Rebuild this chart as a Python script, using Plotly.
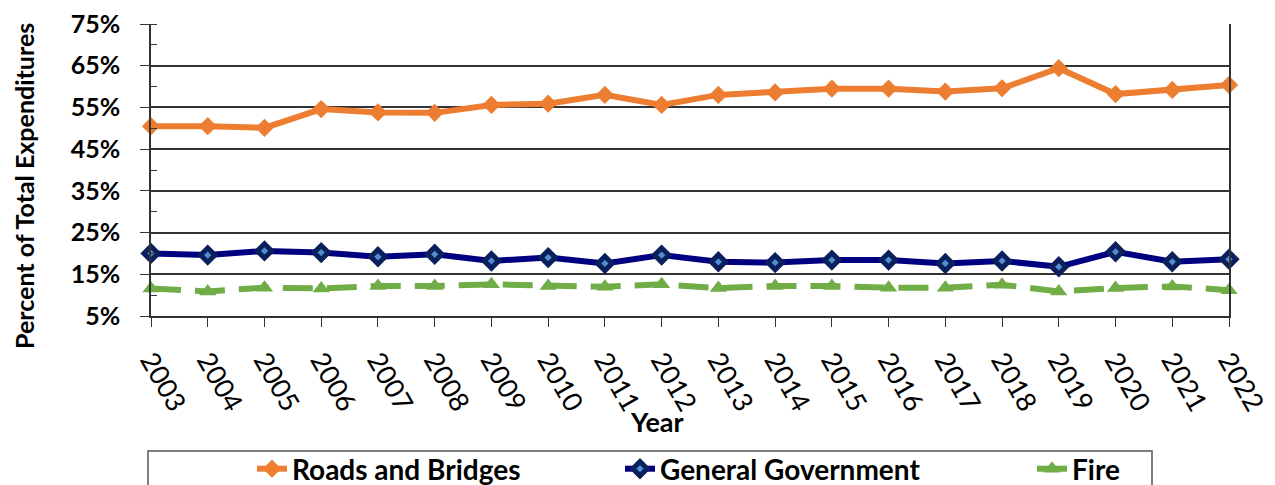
import plotly.graph_objects as go

years = list(range(2003, 2023))
roads_bridges = [50.5, 50.5, 50.1, 54.6, 53.8, 53.7, 55.6, 55.9, 58.0, 55.6,
                 58.0, 58.6, 59.5, 59.5, 58.8, 59.6, 64.4, 58.2, 59.2, 60.4]
general_gov = [20.0, 19.6, 20.6, 20.2, 19.2, 19.8, 18.2, 19.0, 17.6, 19.6,
               18.0, 17.8, 18.4, 18.4, 17.6, 18.2, 16.8, 20.4, 18.0, 18.6]
fire = [11.6, 10.9, 11.8, 11.6, 12.2, 12.2, 12.6, 12.2, 12.0, 12.6,
        11.7, 12.2, 12.2, 11.8, 11.8, 12.5, 10.9, 11.7, 12.1, 11.2]
y_ticks = [5, 15, 25, 35, 45, 55, 65, 75]
y_tick_labels = [f"{v}%" for v in y_ticks]

FONT = "Lato"
OFF = 8  # page body margin offset
W, H = 1275 - OFF, 485 - OFF
L, T = 151 - OFF, 24 - OFF
R = W - (1229 - OFF)
B = H - (316 - OFF)
pw, ph = W - L - R, H - T - B


def px_x(p):
    # p: screen pixel x in the reference picture
    return (p - OFF - L) / pw


def px_y(p):
    return (H - B - (p - OFF)) / ph


fig = go.Figure()
fig.add_trace(go.Scatter(
    x=years, y=roads_bridges, name="Roads and Bridges", mode="lines+markers",
    line=dict(color="#ED7D31", width=6),
    marker=dict(symbol="diamond", size=14, color="#ED7D31"),
    cliponaxis=False, legend="legend"))
fig.add_trace(go.Scatter(
    x=years, y=general_gov, name="General Government", mode="lines+markers",
    line=dict(color="#000080", width=6),
    marker=dict(symbol="diamond", size=11, color="#4F8FD0",
                line=dict(color="#0A1F5C", width=5)),
    cliponaxis=False, legend="legend2"))
fig.add_trace(go.Scatter(
    x=years, y=fire, name="Fire", mode="lines+markers",
    line=dict(color="#70AD47", width=6, dash="30px,14px"),
    marker=dict(symbol="triangle-up", size=15, color="#70AD47"),
    cliponaxis=False, legend="legend3"))


def leg(xpx):
    return dict(orientation="h", x=px_x(xpx), xanchor="left",
                y=px_y(469), yanchor="middle",
                font=dict(family=FONT, size=28, weight="bold"),
                bgcolor="rgba(0,0,0,0)", borderwidth=0)


fig.update_layout(
    width=W, height=H,
    margin=dict(l=L, r=R, t=T, b=B, autoexpand=False),
    plot_bgcolor="white", paper_bgcolor="white",
    font=dict(family=FONT, color="black"),
    showlegend=True,
    legend=leg(252), legend2=leg(620), legend3=leg(1032),
    xaxis=dict(range=[2003, 2022], tickmode="array", tickvals=years,
               ticktext=[str(y) for y in years], tickangle=60,
               tickfont=dict(family=FONT, size=27),
               ticks="outside", ticklen=9, tickcolor="#333",
               ticklabelstandoff=7, automargin=False,
               ticklabeloverflow="allow",
               showline=True, linecolor="#333", linewidth=1.5,
               showgrid=False, zeroline=False),
    yaxis=dict(range=[5, 75], tickmode="array", tickvals=y_ticks,
               ticktext=y_tick_labels,
               tickfont=dict(family=FONT, size=25, weight="bold"),
               ticks="outside", ticklen=9, tickcolor="#333",
               ticklabelstandoff=15, automargin=False,
               ticklabeloverflow="allow",
               showline=True, linecolor="#333", linewidth=1.5, mirror=True,
               showgrid=True, gridcolor="#333", gridwidth=1.5,
               zeroline=False,
               minor=dict(dtick=5, tick0=0, ticks="inside", ticklen=6,
                          tickcolor="#333", showgrid=False)),
    annotations=[
        dict(text="<b>Percent of Total Expenditures</b>", textangle=-90,
             xref="paper", yref="paper", x=px_x(24), y=px_y(186),
             xanchor="center", yanchor="middle", showarrow=False,
             font=dict(family=FONT, size=25)),
        dict(text="<b>Year</b>", xref="paper", yref="paper",
             x=px_x(657), y=px_y(422), xanchor="center", yanchor="middle",
             showarrow=False, font=dict(family=FONT, size=27)),
    ],
    shapes=[dict(type="rect", xref="paper", yref="paper",
                 x0=px_x(148), x1=px_x(1152), y0=px_y(451), y1=px_y(520),
                 line=dict(color="#555", width=1.5))],
)

fig.write_html("out.html")
